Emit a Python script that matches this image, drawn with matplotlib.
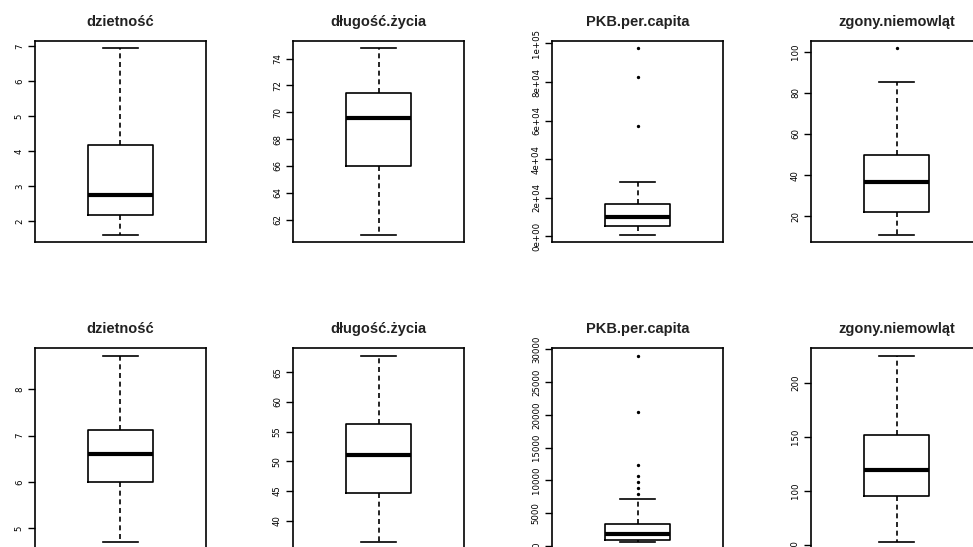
import matplotlib
matplotlib.use("Agg")
import matplotlib.pyplot as plt
from matplotlib import font_manager

titles = ["dzietność", "długość.życia", "PKB.per.capita", "zgony.niemowląt"]

# ---- top row statistics ----
top_whislo = [1.61, 60.88, 900, 11.1]
top_q1 = [2.18, 65.98, 5300, 21.9]
top_med = [2.73, 69.6, 9800, 36.6]
top_q3 = [4.18, 71.45, 16900, 49.9]
top_whishi = [6.93, 74.76, 28100, 85.1]
top_fliers = [[], [], [57300, 82800, 97400], [101.6]]
top_ticks = [[2, 3, 4, 5, 6, 7],
             [62, 64, 66, 68, 70, 72, 74],
             [0, 20000, 40000, 60000, 80000, 100000],
             [20, 40, 60, 80, 100]]
top_ticklabels = [["2", "3", "4", "5", "6", "7"],
                  ["62", "64", "66", "68", "70", "72", "74"],
                  ["0e+00", "2e+04", "4e+04", "6e+04", "8e+04", "1e+05"],
                  ["20", "40", "60", "80", "100"]]

# ---- bottom row statistics ----
bot_whislo = [4.71, 36.4, 570, 53.1]
bot_q1 = [6.0, 44.6, 920, 95.4]
bot_med = [6.6, 51.0, 1800, 119.2]
bot_q3 = [7.13, 56.2, 3370, 151.6]
bot_whishi = [8.72, 67.8, 7060, 224.8]
bot_fliers = [[], [], [7930, 8790, 9710, 10630, 12270, 20360, 29040], []]
bot_ticks = [[5, 6, 7, 8],
             [40, 45, 50, 55, 60, 65],
             [0, 5000, 10000, 15000, 20000, 25000, 30000],
             [50, 100, 150, 200]]
bot_ticklabels = [["5", "6", "7", "8"],
                  ["40", "45", "50", "55", "60", "65"],
                  ["0", "5000", "10000", "15000", "20000", "25000", "30000"],
                  ["50", "100", "150", "200"]]

W, H = 973, 547
fig = plt.figure(figsize=(W / 100, H / 100), dpi=100)
fig.patch.set_facecolor("white")

installed = {f.name for f in font_manager.fontManager.ttflist}
if "Liberation Sans Narrow" in installed:
    tick_family = ["Liberation Sans Narrow"]
else:
    tick_family = ["DejaVu Sans"]
title_family = ["Liberation Sans", "DejaVu Sans"]

col_left_px = [35, 293, 552, 811]
row_top_px = [41, 348.3]
ax_w_px, ax_h_px = 171, 201

rows = [
    (top_whislo, top_q1, top_med, top_q3, top_whishi, top_fliers, top_ticks, top_ticklabels),
    (bot_whislo, bot_q1, bot_med, bot_q3, bot_whishi, bot_fliers, bot_ticks, bot_ticklabels),
]

for r, (wlo, q1, med, q3, whi, fl, tks, tkl) in enumerate(rows):
    for c in range(4):
        left = col_left_px[c] / W
        bottom = 1 - (row_top_px[r] + ax_h_px) / H
        ax = fig.add_axes([left, bottom, ax_w_px / W, ax_h_px / H])
        stats = [dict(med=med[c], q1=q1[c], q3=q3[c], whislo=wlo[c], whishi=whi[c],
                      fliers=fl[c])]
        ax.bxp(stats, positions=[1], widths=0.405, capwidths=0.215,
               boxprops=dict(color="black", linewidth=1.2),
               medianprops=dict(color="black", linewidth=3.0, solid_capstyle="butt"),
               whiskerprops=dict(color="black", linewidth=1.2, linestyle=(0, (3, 2.2))),
               capprops=dict(color="black", linewidth=1.2),
               flierprops=dict(marker="o", markersize=1.4, markerfacecolor="black",
                               markeredgecolor="black", linestyle="none"))
        lo = min([wlo[c]] + fl[c])
        hi = max([whi[c]] + fl[c])
        pad = 0.04 * (hi - lo)
        ax.set_ylim(lo - pad, hi + pad)
        ax.set_xlim(0.46, 1.54)
        ax.set_xticks([])
        ax.set_yticks(tks[c])
        ax.set_yticklabels(tkl[c], rotation=90, va="center",
                           fontsize=6.8, family=tick_family, fontstretch="condensed")
        ax.tick_params(axis="y", direction="out", length=5, width=1.0, pad=3,
                       color="black")
        for s in ax.spines.values():
            s.set_linewidth(1.2)
            s.set_color("black")
        ax.set_title(titles[c], fontsize=10.5, fontweight="bold",
                     family=title_family, pad=11, color="#222222")

fig.savefig("out.png", dpi=100, facecolor="white")
